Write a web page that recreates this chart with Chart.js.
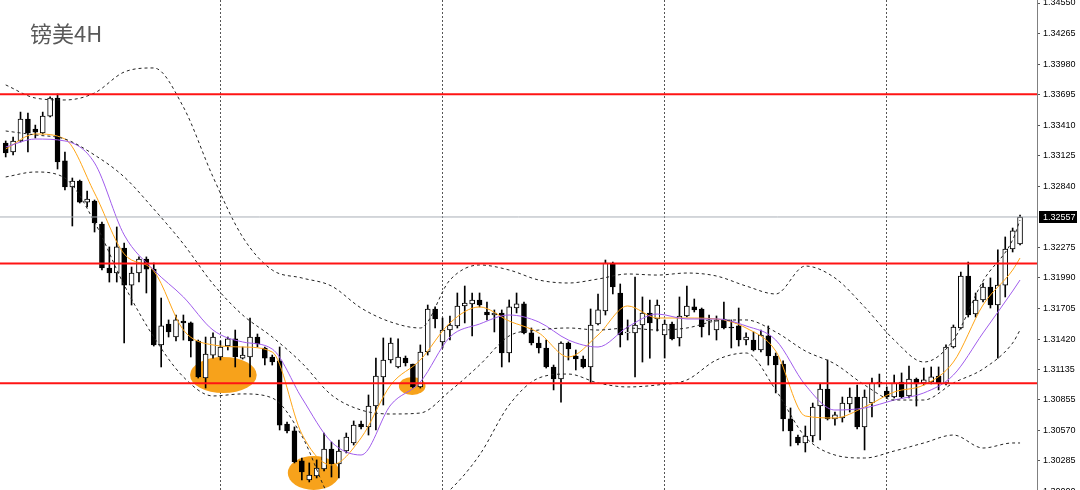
<!DOCTYPE html>
<html>
<head>
<meta charset="utf-8">
<title>镑美4H</title>
<script src="https://cdn.jsdelivr.net/npm/chart.js@4.4.1/dist/chart.umd.min.js"></script>
<style>
  html, body { margin: 0; padding: 0; background: #fff; }
  #wrap { position: relative; width: 1080px; height: 490px; overflow: hidden; }
  #title { position: absolute; left: 30px; top: 21px; font: 22px/22px "Noto Sans CJK SC", sans-serif; color: #595959; }
</style>
</head>
<body>
<div id="wrap">
  <canvas id="chart" width="1080" height="490"></canvas>
  <div id="title">镑美4H</div>
</div>
<script>
// 4H candles, oldest first
const opens = [
  1.33246,1.33162,1.33265,1.33469,1.33376,1.33339,1.33497,1.33665,1.33079,1.32836,
  1.32892,1.32696,1.32706,1.32492,1.32082,1.32035,1.32268,1.31923,1.32035,1.32166,
  1.32072,1.31365,1.31560,1.31439,1.31588,1.31570,1.31402,1.31057,1.31271,1.31253,
  1.31355,1.31421,1.31243,1.31253,1.31439,1.31337,1.31253,1.31216,1.30629,1.30564,
  1.30285,1.30107,1.30145,1.30210,1.30396,1.30257,1.30377,1.30452,1.30629,1.30601,
  1.30796,1.31067,1.31225,1.31160,1.31243,1.31188,1.30974,1.31299,1.31700,1.31393,
  1.31504,1.31542,1.31728,1.31747,1.31784,1.31672,1.31644,1.31663,1.31290,1.31709,
  1.31747,1.31477,1.31383,1.31337,1.31160,1.31048,1.31383,1.31262,1.31234,1.31160,
  1.31560,1.31681,1.32119,1.31849,1.31477,1.31477,1.31551,1.31663,1.31607,1.31458,
  1.31560,1.31430,1.31635,1.31719,1.31700,1.31588,1.31504,1.31607,1.31532,1.31542,
  1.31411,1.31411,1.31318,1.31449,1.31262,1.31188,1.30676,1.30508,1.30452,1.30517,
  1.30796,1.30955,1.30676,1.30685,1.30815,1.30880,1.30601,1.30824,1.31002,1.30936,
  1.30880,1.31020,1.30890,1.31048,1.31011,1.31020,1.31076,1.31011,1.31346,1.31523,
  1.32007,1.31653,1.31784,1.31905,1.31737,1.31923,1.32259,1.32306
];
const highs = [
  1.33265,1.33302,1.33534,1.33525,1.33413,1.33534,1.33675,1.33703,1.33162,1.32920,
  1.32901,1.32799,1.32715,1.32510,1.32278,1.32464,1.32315,1.32091,1.32185,1.32185,
  1.32128,1.31802,1.31598,1.31644,1.31644,1.31579,1.31411,1.31439,1.31477,1.31402,
  1.31439,1.31504,1.31346,1.31616,1.31467,1.31346,1.31271,1.31346,1.30647,1.30601,
  1.30312,1.30266,1.30294,1.30545,1.30461,1.30480,1.30545,1.30657,1.30657,1.30899,
  1.31243,1.31430,1.31430,1.31421,1.31262,1.31188,1.31365,1.31737,1.31719,1.31616,
  1.31635,1.31849,1.31914,1.31849,1.31849,1.31765,1.31691,1.31691,1.31784,1.31849,
  1.31765,1.31523,1.31439,1.31411,1.31178,1.31393,1.31393,1.31318,1.31262,1.31700,
  1.31840,1.32156,1.32137,1.31933,1.31598,1.31998,1.31812,1.31784,1.31784,1.31598,
  1.31579,1.31812,1.31914,1.31793,1.31709,1.31644,1.31635,1.31765,1.31598,1.31709,
  1.31477,1.31486,1.31504,1.31542,1.31290,1.31216,1.30778,1.30526,1.30610,1.30824,
  1.31002,1.31225,1.30740,1.30880,1.30964,1.30992,1.30946,1.31057,1.31094,1.30974,
  1.31085,1.31104,1.31169,1.31057,1.31150,1.31160,1.31160,1.31365,1.31551,1.32044,
  1.32137,1.31849,1.31942,1.31989,1.32250,1.32371,1.32454,1.32575
];
const lows = [
  1.33116,1.33134,1.33255,1.33162,1.33292,1.33330,1.33488,1.33004,1.32808,1.32473,
  1.32687,1.32650,1.32417,1.32063,1.31951,1.31951,1.31383,1.31737,1.31951,1.31849,
  1.31355,1.31160,1.31439,1.31402,1.31411,1.31253,1.31057,1.30964,1.31243,1.31225,
  1.31318,1.31160,1.31234,1.31067,1.31346,1.31178,1.31178,1.30573,1.30545,1.30266,
  1.30107,1.30089,1.30126,1.30191,1.30135,1.30126,1.30359,1.30433,1.30582,1.30526,
  1.30573,1.30806,1.31197,1.31150,1.31169,1.30964,1.30964,1.31271,1.31523,1.31337,
  1.31411,1.31523,1.31570,1.31449,1.31719,1.31598,1.31486,1.31160,1.31206,1.31663,
  1.31467,1.31365,1.31290,1.31150,1.30946,1.30833,1.31225,1.31132,1.31150,1.31011,
  1.31551,1.31644,1.31840,1.31346,1.31411,1.31067,1.31206,1.31243,1.31495,1.31243,
  1.31411,1.31355,1.31625,1.31672,1.31439,1.31458,1.31411,1.31514,1.31337,1.31355,
  1.31365,1.31309,1.31299,1.31178,1.30918,1.30564,1.30424,1.30433,1.30368,1.30461,
  1.30480,1.30666,1.30619,1.30647,1.30740,1.30582,1.30387,1.30694,1.30974,1.30871,
  1.30871,1.30871,1.30871,1.30796,1.30992,1.31002,1.30946,1.30992,1.31337,1.31514,
  1.31625,1.31625,1.31765,1.31709,1.31243,1.31812,1.32231,1.32296
];
const closes = [
  1.33153,1.33265,1.33469,1.33339,1.33348,1.33497,1.33665,1.33069,1.32836,1.32892,
  1.32696,1.32724,1.32501,1.32082,1.32035,1.32278,1.31923,1.32035,1.32166,1.32072,
  1.31365,1.31542,1.31486,1.31598,1.31570,1.31402,1.31067,1.31281,1.31439,1.31346,
  1.31421,1.31253,1.31271,1.31439,1.31374,1.31243,1.31206,1.30619,1.30564,1.30275,
  1.30182,1.30154,1.30219,1.30396,1.30257,1.30377,1.30508,1.30619,1.30601,1.30796,
  1.31076,1.31225,1.31383,1.31253,1.31197,1.30974,1.31299,1.31700,1.31607,1.31504,
  1.31551,1.31728,1.31756,1.31784,1.31737,1.31644,1.31663,1.31290,1.31719,1.31747,
  1.31477,1.31383,1.31337,1.31160,1.31048,1.31383,1.31327,1.31234,1.31160,1.31551,
  1.31691,1.32128,1.31905,1.31458,1.31486,1.31551,1.31663,1.31570,1.31737,1.31560,
  1.31421,1.31635,1.31728,1.31691,1.31532,1.31598,1.31598,1.31523,1.31523,1.31411,
  1.31439,1.31318,1.31458,1.31262,1.31178,1.30676,1.30564,1.30452,1.30517,1.30787,
  1.30955,1.30676,1.30713,1.30824,1.30880,1.30601,1.30880,1.31011,1.31020,1.30880,
  1.31011,1.30880,1.31048,1.31002,1.31039,1.31067,1.31011,1.31346,1.31532,1.32007,
  1.31644,1.31784,1.31905,1.31737,1.31923,1.32259,1.32427,1.32557
];

// indicator lines, read every 4th candle
const lineIdx = [0,4,8,12,16,20,24,28,32,36,40,44,48,52,56,60,64,68,72,76,80,84,88,92,96,100,104,108,112,116,120,124,128,132,136,137];
const upperBand = [1.33787,1.33665,1.33647,1.33712,1.33907,1.33945,1.33581,1.32930,1.32371,1.32063,1.31989,1.31914,1.31709,1.31579,1.31523,1.31970,1.32110,1.32063,1.31970,1.31942,1.31979,1.32026,1.32016,1.32035,1.32007,1.31914,1.31840,1.32100,1.31989,1.31719,1.31411,1.31206,1.31411,1.31961,1.32343,1.32529];
const middleBand = [1.33358,1.33321,1.33283,1.33134,1.32930,1.32631,1.32306,1.31933,1.31644,1.31439,1.31197,1.30899,1.30759,1.30722,1.30731,1.30936,1.31178,1.31449,1.31504,1.31523,1.31504,1.31523,1.31504,1.31523,1.31588,1.31598,1.31486,1.31309,1.31188,1.30992,1.30852,1.30852,1.31011,1.31141,1.31383,1.31504];
const lowerBand = [1.32930,1.32976,1.32920,1.32510,1.31923,1.31439,1.31067,1.30890,1.30909,1.30871,1.30517,1.29921,1.29781,1.29735,1.29809,1.30014,1.30340,1.30806,1.31057,1.31094,1.31011,1.30974,1.30992,1.31039,1.31225,1.31290,1.30946,1.30508,1.30340,1.30312,1.30377,1.30452,1.30526,1.30405,1.30452,1.30452];
const fastMA = [1.33190,1.33330,1.33283,1.32780,1.32213,1.32054,1.31504,1.31365,1.31346,1.31299,1.30536,1.30247,1.30499,1.30992,1.31225,1.31570,1.31719,1.31588,1.31477,1.31253,1.31458,1.31728,1.31616,1.31616,1.31607,1.31523,1.31309,1.30703,1.30685,1.30787,1.30927,1.30992,1.31206,1.31737,1.32063,1.32175];
const slowMA = [1.33209,1.33283,1.33265,1.33060,1.32390,1.32063,1.31812,1.31504,1.31393,1.31327,1.30871,1.30461,1.30340,1.30806,1.31020,1.31439,1.31560,1.31644,1.31579,1.31411,1.31346,1.31532,1.31653,1.31607,1.31607,1.31542,1.31411,1.30992,1.30759,1.30778,1.30852,1.30918,1.31085,1.31477,1.31867,1.31970];

// horizontal levels and axis
const resistLevels = [1.33700, 1.32124, 1.31008];
const lastPrice = 1.32557;
const priceTicks = [1.34550,1.34265,1.33980,1.33695,1.33410,1.33125,1.32840,1.32275,1.31990,1.31705,1.31420,1.31135,1.30855,1.30570,1.30285,1.30000];
const separatorIdx = [29, 59, 89, 119];

// orange highlight marks: centre candle, centre price, half width (candles), half height (price)
const hlIndex = [29.4, 41.6, 54.9];
const hlPrice = [1.31085, 1.30173, 1.30983];
const hlHalfWidth = [4.5, 3.5, 1.8];
const hlHalfHeight = [0.00168, 0.00158, 0.00084];

const X_MIN = -0.77, X_MAX = 139.29;
const Y_MIN = 1.30014, Y_MAX = 1.34578;

const bodies = opens.map((o, i) => ({ x: i, y: [o, closes[i]] }));
const wicks = opens.map((o, i) => ({ x: i, y: [lows[i], highs[i]] }));
const bodyColors = opens.map((o, i) => closes[i] >= o ? '#ffffff' : '#000000');

function lineSet(values, color, dashed) {
    return {
        type: 'line',
        data: lineIdx.map((x, k) => ({ x: x, y: values[k] })),
        borderColor: color,
        borderWidth: 1,
        borderDash: dashed ? [3, 3] : [],
        pointRadius: 0,
        cubicInterpolationMode: 'monotone',
        order: 1
    };
}

function levelSet(price, color, width) {
    return {
        type: 'line',
        data: [{ x: X_MIN, y: price }, { x: X_MAX, y: price }],
        borderColor: color,
        borderWidth: width,
        pointRadius: 0,
        order: 0
    };
}

const highlightPlugin = {
    id: 'highlights',
    beforeDatasetsDraw(chart) {
        const { ctx, scales: { x, y } } = chart;
        ctx.save();
        ctx.fillStyle = '#f7a21b';
        hlIndex.forEach((c, k) => {
            const cx = x.getPixelForValue(c);
            const cy = y.getPixelForValue(hlPrice[k]);
            const rx = x.getPixelForValue(c + hlHalfWidth[k]) - cx;
            const ry = y.getPixelForValue(hlPrice[k] - hlHalfHeight[k]) - cy;
            ctx.beginPath();
            ctx.ellipse(cx, cy, rx, ry, 0, 0, Math.PI * 2);
            ctx.fill();
        });
        ctx.restore();
    }
};

const priceTagPlugin = {
    id: 'priceTag',
    afterDraw(chart) {
        const { ctx, scales: { y } } = chart;
        const py = Math.round(y.getPixelForValue(lastPrice));
        ctx.save();
        ctx.fillStyle = '#000';
        ctx.fillRect(y.left + 2, py - 6, 38, 12);
        ctx.fillStyle = '#fff';
        ctx.font = '9px "Liberation Sans"';
        ctx.textBaseline = 'middle';
        ctx.fillText(lastPrice.toFixed(5), y.left + 6, py + 0.5);
        ctx.restore();
    }
};

const datasets = [
    {
        type: 'bar',
        data: wicks,
        backgroundColor: '#000',
        barThickness: 1,
        grouped: false,
        order: 3
    },
    {
        type: 'bar',
        data: bodies,
        backgroundColor: bodyColors,
        borderColor: '#000',
        borderWidth: 1,
        borderSkipped: false,
        barThickness: 5,
        grouped: false,
        order: 2
    },
    lineSet(upperBand, '#222', true),
    lineSet(middleBand, '#222', true),
    lineSet(lowerBand, '#222', true),
    lineSet(slowMA, '#a05cec', false),
    lineSet(fastMA, '#ffa516', false),
    levelSet(lastPrice, '#a9afb6', 1)
];
resistLevels.forEach(p => datasets.push(levelSet(p, '#ff1414', 2)));

new Chart(document.getElementById('chart'), {
    type: 'bar',
    data: { datasets: datasets },
    options: {
        responsive: false,
        animation: false,
        layout: { padding: 0 },
        plugins: { legend: { display: false }, tooltip: { enabled: false } },
        scales: {
            x: {
                type: 'linear',
                min: X_MIN,
                max: X_MAX,
                offset: false,
                afterBuildTicks: s => { s.ticks = separatorIdx.map(v => ({ value: v })); },
                ticks: { display: false },
                grid: { offset: false, color: '#555', drawTicks: false },
                border: { display: false, dash: [2, 2] },
                afterFit: s => { s.height = 0; s.paddingLeft = 0; s.paddingRight = 0; }
            },
            y: {
                position: 'right',
                min: Y_MIN,
                max: Y_MAX,
                beginAtZero: false,
                afterBuildTicks: s => { s.ticks = priceTicks.map(v => ({ value: v })); },
                ticks: {
                    autoSkip: false,
                    color: '#000',
                    padding: 3,
                    font: { family: 'Liberation Sans', size: 9 },
                    callback: v => v.toFixed(5)
                },
                grid: { drawOnChartArea: false, tickLength: 3, color: '#555' },
                border: { display: true, color: '#808080' },
                afterFit: s => { s.width = 43; s.paddingTop = 0; s.paddingBottom = 0; }
            }
        }
    },
    plugins: [highlightPlugin, priceTagPlugin]
});
</script>
</body>
</html>
